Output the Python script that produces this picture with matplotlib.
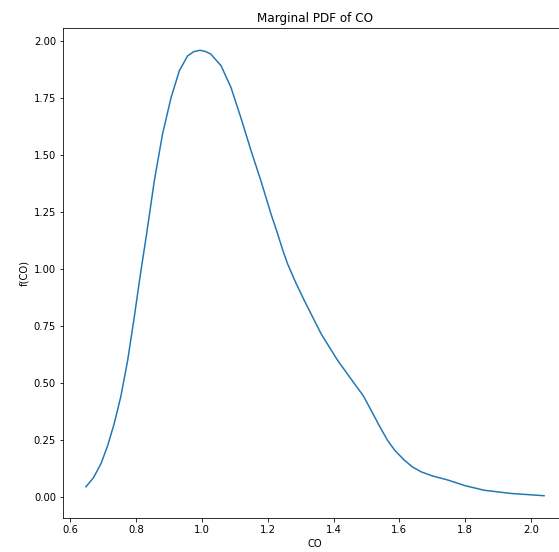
import matplotlib
matplotlib.use("Agg")
import matplotlib.pyplot as plt

# Marginal density estimate of CO concentration
co = [0.647, 0.67, 0.693, 0.713, 0.733, 0.753, 0.774, 0.794, 0.814, 0.830,
      0.855, 0.880, 0.906, 0.931, 0.956, 0.975, 0.994, 1.010, 1.027, 1.058,
      1.088, 1.118, 1.149, 1.179, 1.21, 1.23, 1.245, 1.26, 1.285, 1.311,
      1.362, 1.412, 1.463, 1.490, 1.514, 1.540, 1.564, 1.586, 1.615, 1.640,
      1.666, 1.700, 1.747, 1.80, 1.858, 1.939, 2.04]
pdf = [0.045, 0.085, 0.147, 0.225, 0.322, 0.44, 0.60, 0.789, 0.99, 1.139,
       1.387, 1.592, 1.752, 1.869, 1.934, 1.953, 1.959, 1.954, 1.942, 1.891,
       1.796, 1.664, 1.519, 1.387, 1.24, 1.154, 1.085, 1.023, 0.94, 0.862,
       0.716, 0.60, 0.498, 0.445, 0.381, 0.31, 0.249, 0.205, 0.162, 0.132,
       0.111, 0.093, 0.075, 0.050, 0.030, 0.016, 0.006]

W, H, DPI = 559, 552, 72
fig = plt.figure(figsize=(W / DPI, H / DPI), dpi=DPI)
left, right, top, bottom = 63, 567, 28, 518
ax = fig.add_axes([left / W, 1 - bottom / H, (right - left) / W, (bottom - top) / H])

ax.plot(co, pdf, color="#1f77b4", linewidth=1.5)
ax.set_yticks([0.0, 0.25, 0.5, 0.75, 1.0, 1.25, 1.5, 1.75, 2.0])
ax.set_title("Marginal PDF of CO")
ax.set_xlabel("CO")
ax.set_ylabel("f(CO)")

fig.savefig("out.png", dpi=DPI)
